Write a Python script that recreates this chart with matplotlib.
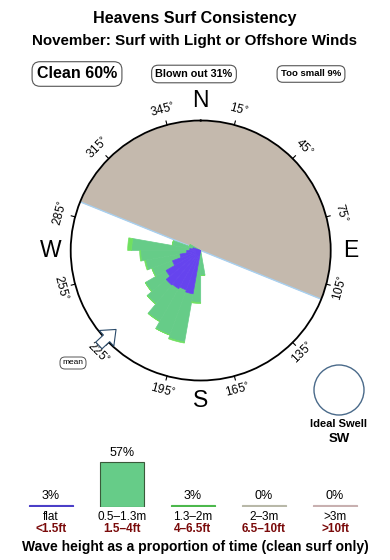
import numpy as np
import matplotlib
matplotlib.use("Agg")
import matplotlib.pyplot as plt
from matplotlib.patches import Circle

plt.rcParams['font.family'] = ['Liberation Sans', 'DejaVu Sans']

# ---------------- data ----------------
title = "Heavens Surf Consistency"
subtitle = "November: Surf with Light or Offshore Winds"
clean_pct = 60
blown_pct = 31
small_pct = 9

# swell rose: direction bins (deg, centre of 10 deg bins) and stacked segment lengths
rose_dirs = [175, 185, 195, 205, 215, 225, 235, 245, 255, 265, 275, 285, 295]
rose_flat = [0, 0, 44, 42, 44, 45, 40, 30, 21, 14, 11, 8, 0]
rose_mid = [25, 52, 49, 48, 38, 25, 24, 22, 35, 46, 58, 21, 12]
rose_big = [0, 1, 1, 0, 0, 0, 0, 0, 1, 1, 4, 0, 0]

shade_from = 292   # bearing where the shaded sector starts (clockwise)
shade_to = 112     # bearing where it ends
mean_dir = 227

tick_bearings = [15, 45, 75, 105, 135, 165, 195, 225, 255, 285, 315, 345]
cardinals = ['N', 'E', 'S', 'W']
cardinal_bearings = [0, 90, 180, 270]

ideal_swell = "SW"

size_classes = ['flat', '0.5–1.3m', '1.3–2m', '2–3m', '>3m']
size_feet = ['<1.5ft', '1.5–4ft', '4–6.5ft', '6.5–10ft', '>10ft']
size_pcts = [3, 57, 3, 0, 0]
size_colors = ['#4b3fc8', '#66cc88', '#4cb84c', '#b8b8a8', '#c8b0b0']

# ---------------- figure ----------------
W, H = 390, 560
fig = plt.figure(figsize=(W / 100, H / 100), dpi=100)

fig.text(0.5, 1 - 19 / H, title, ha='center', va='center', fontsize=11.6, fontweight='bold')
fig.text(0.5, 1 - 41 / H, subtitle, ha='center', va='center', fontsize=10.9, fontweight='bold')

box = dict(boxstyle='round,pad=0.3,rounding_size=0.5', fc='white', ec='#555555', lw=0.8)
fig.text(77 / W, 1 - 74 / H, f"Clean {clean_pct}%", ha='center', va='center',
         fontsize=11.5, fontweight='bold', bbox=box)
fig.text(194 / W, 1 - 74 / H, f"Blown out {blown_pct}%", ha='center', va='center',
         fontsize=7.8, fontweight='bold', bbox=dict(box, boxstyle='round,pad=0.35,rounding_size=0.6'))
fig.text(311 / W, 1 - 74 / H, f"Too small {small_pct}%", ha='center', va='center',
         fontsize=6.8, fontweight='bold', bbox=dict(box, boxstyle='round,pad=0.4,rounding_size=0.6'))

# ---------------- compass / rose ----------------
cx, cy, R = 200.7, 250.5, 130
ax = fig.add_axes([(cx - R) / W, (H - cy - R) / H, 2 * R / W, 2 * R / H], projection='polar')
ax.set_theta_zero_location('N')
ax.set_theta_direction(-1)
ax.set_ylim(0, R)
ax.set_xticks([])
ax.set_yticks([])
ax.grid(False)
ax.spines['polar'].set_linewidth(1.3)
ax.spines['polar'].set_color('black')
ax.set_facecolor('white')

# shaded sector
th = np.radians(np.linspace(shade_from, shade_to + 360, 200))
ax.fill_between(th, 0, R, color='#c4b9ad', lw=0, zorder=1)
ax.plot([np.radians(shade_from)] * 2, [R, 0], color='#a8d0f0', lw=1.0, zorder=2)
ax.plot([np.radians(shade_to)] * 2, [0, R], color='#a8d0f0', lw=1.0, zorder=2)

# rose bars
theta = np.radians(rose_dirs)
wid = np.radians(10)
flat = np.array(rose_flat, float)
mid = np.array(rose_mid, float)
big = np.array(rose_big, float)
ax.bar(theta, mid, width=wid, bottom=flat, color='#66cc88', ec='#66cc88', lw=0.5, zorder=3)
ax.bar(theta, big, width=wid, bottom=flat + mid, color='#70e060', ec='#70e060', lw=0.5, zorder=3)
ax.bar(theta, flat, width=wid, bottom=0, color='#6644ee', ec='#6644ee', lw=0.5, zorder=4)

# ticks and labels
for b in tick_bearings:
    t = np.radians(b)
    ax.plot([t, t], [R, R + 4], color='black', lw=0.8, clip_on=False, zorder=5)
    if b <= 90 or b >= 270:
        rot = (360 - b) % 360
    else:
        rot = 180 - b
    ax.text(t, R + 15, f"{b}$^{{\\circ}}$", rotation=rot, rotation_mode='anchor',
            ha='center', va='center', fontsize=8.5)
for lab, b in zip(cardinals, cardinal_bearings):
    ax.text(np.radians(b), 150, lab, ha='center', va='center', fontsize=16.5)

# mean direction arrow
ax.annotate('', xy=(np.radians(mean_dir), 113), xytext=(np.radians(mean_dir), 142),
            arrowprops=dict(arrowstyle='simple,head_length=0.85,head_width=1.4,tail_width=0.6',
                            fc='white', ec='#2a4a6a', lw=0.8, mutation_scale=11),
            annotation_clip=False, zorder=6)
fig.text(73 / W, 1 - 363 / H, "mean", ha='center', va='center', fontsize=6,
         bbox=dict(boxstyle='round,pad=0.3,rounding_size=0.6', fc='white', ec='#555555', lw=0.7))

# ideal swell
fig.add_artist(Circle((339 / 100, (H - 390) / 100), 0.25, transform=fig.dpi_scale_trans,
                      fill=False, ec='#4a6a8a', lw=1.0))
fig.text(339 / W, 1 - 424 / H, "Ideal Swell", ha='center', va='center', fontsize=8, fontweight='bold')
fig.text(339 / W, 1 - 439 / H, ideal_swell, ha='center', va='center', fontsize=9.5, fontweight='bold')

# ---------------- wave height legend ----------------
col_w = 71
ax2 = fig.add_axes([(51 - col_w / 2) / W, (H - 507) / H, 5 * col_w / W, 50 / H])
ax2.set_xlim(-0.5, 4.5)
ax2.set_ylim(0, max(size_pcts) * 50 / 45)
ax2.axis('off')
x = np.arange(len(size_pcts))
heights = [max(p, 2.3) for p in size_pcts]
edges = ['#3a5a3a' if p > 10 else c for p, c in zip(size_pcts, size_colors)]
ax2.bar(x, heights, width=0.63, color=size_colors, edgecolor=edges, linewidth=0.8)
for i, (p, h) in enumerate(zip(size_pcts, heights)):
    ax2.annotate(f"{p}%", xy=(i, h), xytext=(0, 6.5), textcoords='offset points',
                 ha='center', va='center', fontsize=9, annotation_clip=False)
    ax2.annotate(size_classes[i], xy=(i, 0), xytext=(0, -7.4), textcoords='offset points',
                 ha='center', va='center', fontsize=8.5, annotation_clip=False)
    ax2.annotate(size_feet[i], xy=(i, 0), xytext=(0, -16), textcoords='offset points',
                 ha='center', va='center', fontsize=8.5, fontweight='bold', color='#7a0a0a',
                 annotation_clip=False)

fig.text(0.5, 1 - 547 / H, "Wave height as a proportion of time (clean surf only)",
         ha='center', va='center', fontsize=10, fontweight='bold')

fig.savefig('out.png', dpi=100)
